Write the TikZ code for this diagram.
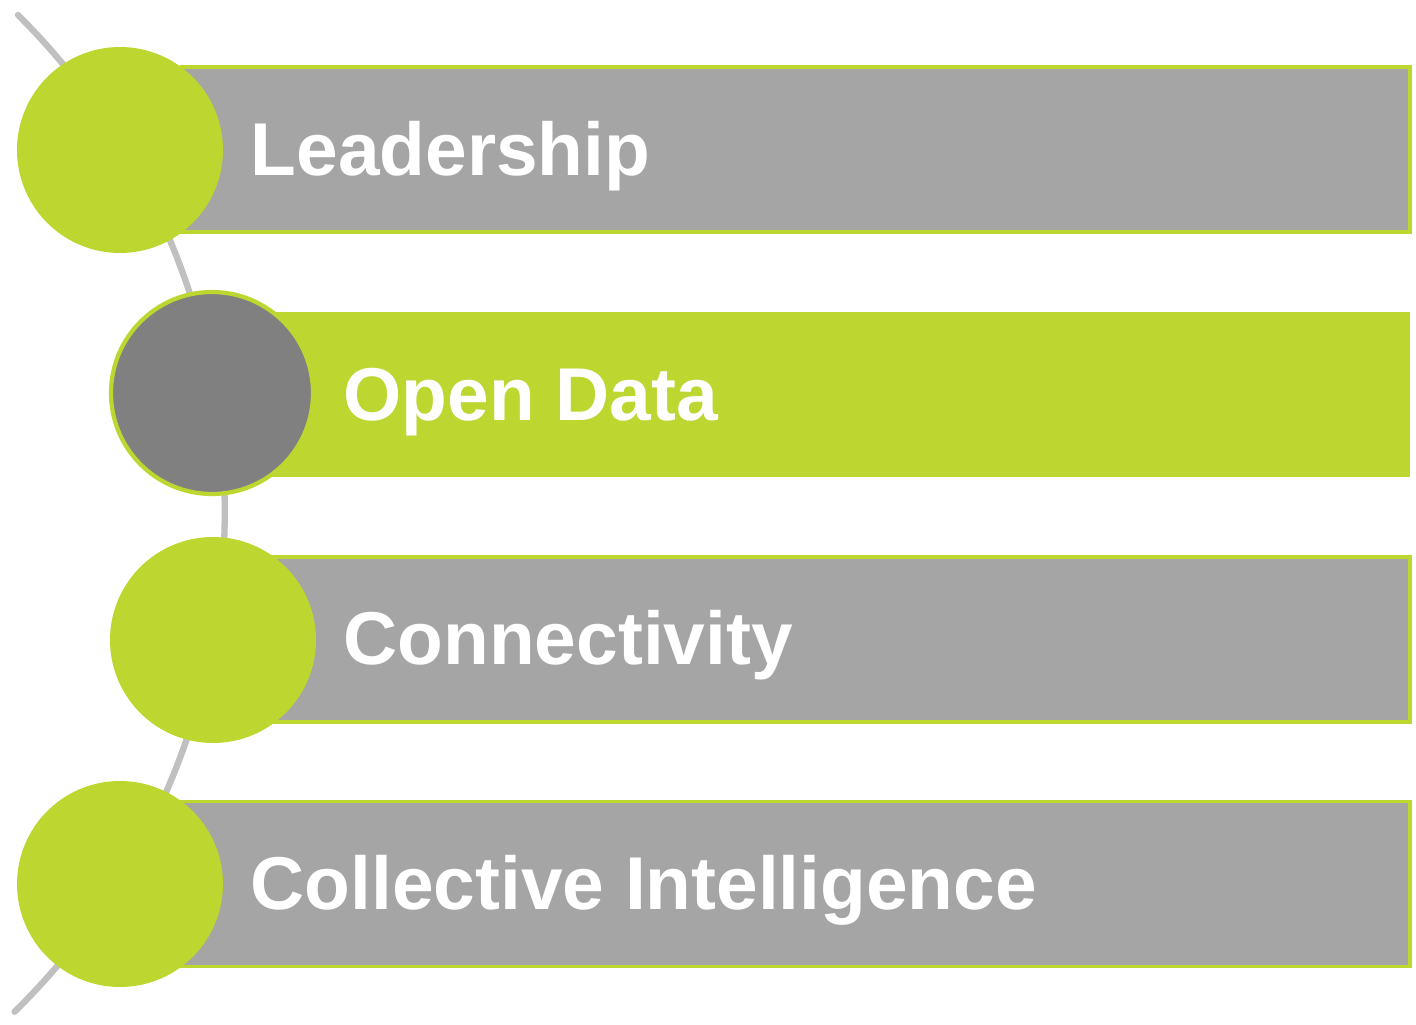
\documentclass[tikz,border=0pt]{standalone}
\usepackage{fontspec}
\setmainfont{Liberation Sans}
\usepackage{tikz}
\usetikzlibrary{positioning,calc}
\usepackage{xcolor}
\definecolor{lime}{RGB}{189,214,48}
\definecolor{bargray}{RGB}{165,165,165}
\definecolor{dotgray}{RGB}{128,128,128}
\definecolor{arcgray}{RGB}{192,192,192}

\begin{document}
\begin{tikzpicture}[
    bar/.style={rectangle, anchor=west, minimum height=1.65cm, inner sep=0pt, draw=lime, line width=1pt},
    dot/.style={circle, minimum size=2.06cm, inner sep=0pt},
    lbl/.style={anchor=base west, text=white, inner sep=0pt, font=\fontsize{21.3}{24}\selectfont\bfseries}]
                    \useasboundingbox (0,0) rectangle (14.16,-10.25);
                    % the arc behind the circles
                    \coordinate (ArcTop) at (0.18,-0.15);
                    \draw[arcgray, line width=1.8pt, line cap=round] (ArcTop) arc[start angle=45.2, end angle=-45.6, radius=7cm];
                    % bars
                    \node[bar, fill=bargray, minimum width=12.28cm] (BarLead) at (1.80,-1.495) {};
                    \node[bar, fill=lime, draw=none, minimum width=11.38cm] (BarOpen) at (2.70,-3.95) {};
                    \node[bar, fill=bargray, minimum width=11.38cm] (BarConn) at (2.70,-6.395) {};
                    \node[bar, fill=bargray, minimum width=12.28cm] (BarColl) at (1.80,-8.84) {};
                    % circles
                    \node[dot, fill=lime] (Lead) at (1.20,-1.50) {};
                    \node[dot, fill=dotgray, draw=lime, line width=1.2pt, minimum size=2.02cm] (Open) at (2.12,-3.93) {};
                    \node[dot, fill=lime] (Conn) at (2.13,-6.40) {};
                    \node[dot, fill=lime] (Coll) at (1.20,-8.84) {};
                    % labels
                    \node[lbl] (LeadTxt) at (2.50,-1.76) {Leadership};
                    \node[lbl] (OpenTxt) at (3.43,-4.21) {Open Data};
                    \node[lbl] (ConnTxt) at (3.43,-6.65) {Connectivity};
                    \node[lbl] (CollTxt) at (2.50,-9.10) {Collective Intelligence};
                \end{tikzpicture}
\end{document}
